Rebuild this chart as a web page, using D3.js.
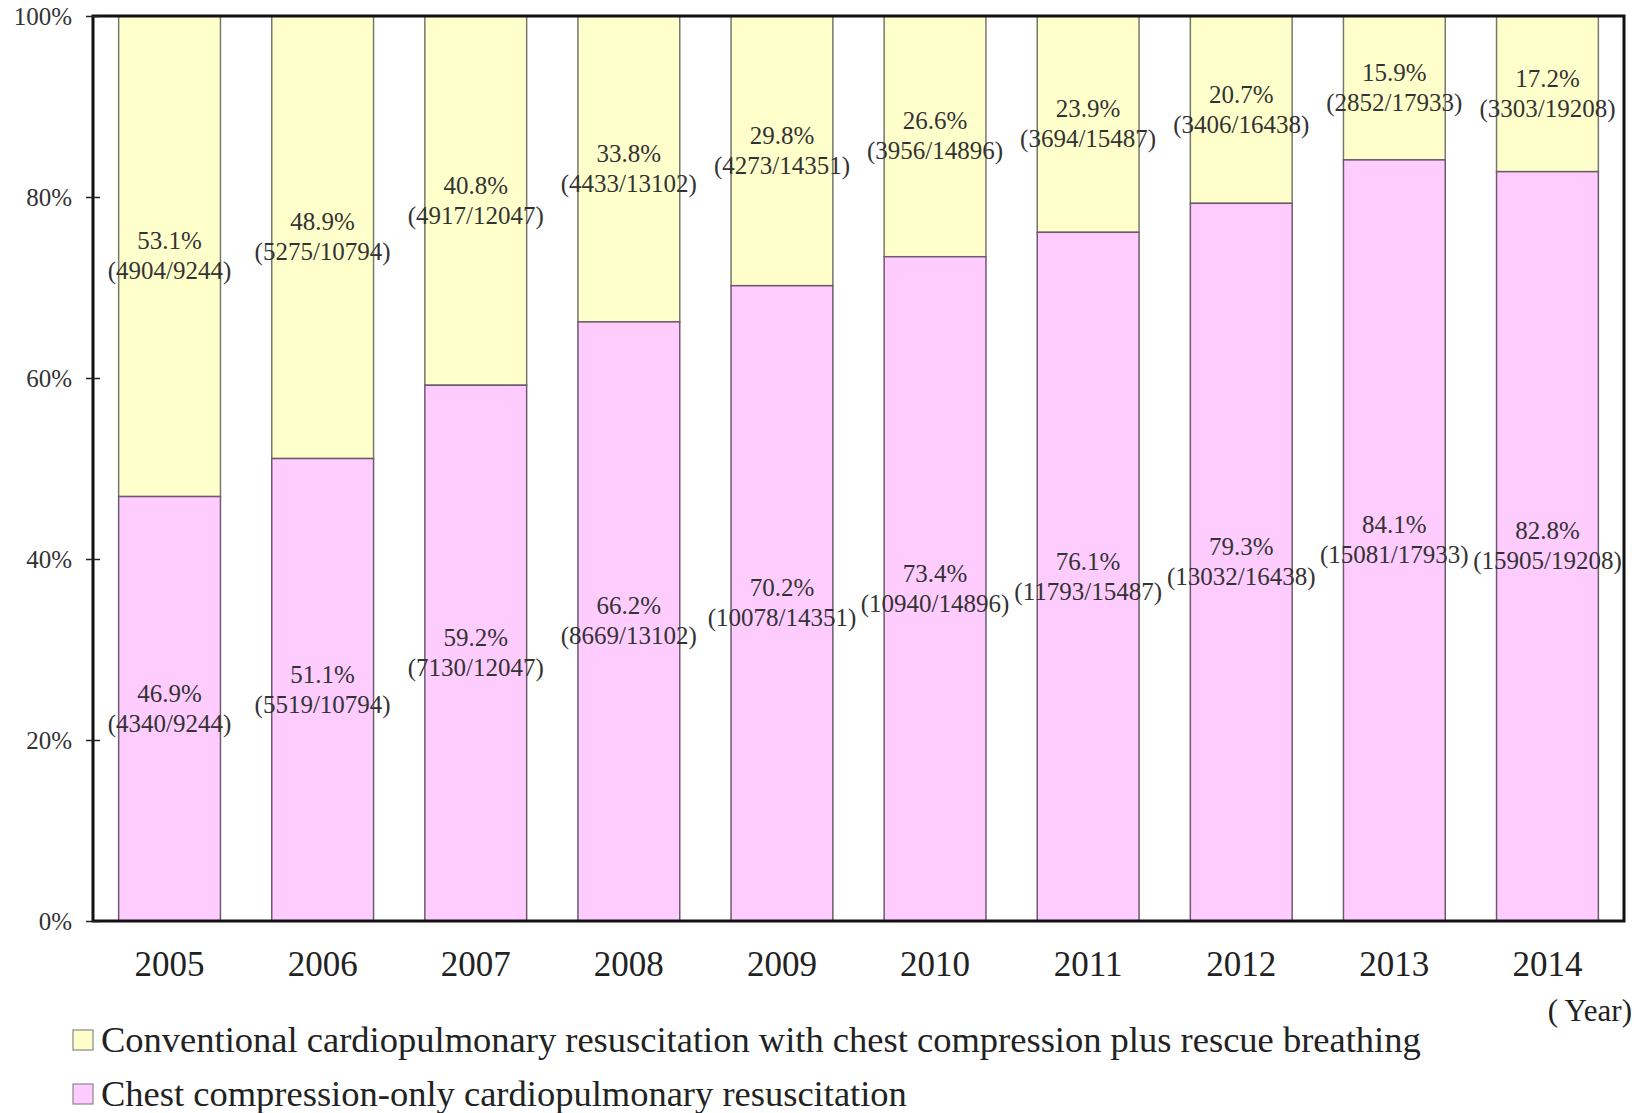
<!DOCTYPE html>
<html>
<head>
<meta charset="utf-8">
<script src="https://cdn.jsdelivr.net/npm/d3@7/dist/d3.min.js"></script>
<style>
  body { margin: 0; background: #fff; }
  svg { display: block; font-family: "Liberation Serif", "Times New Roman", serif; }
</style>
</head>
<body>
<div id="content"></div>
<script>
const years = ['2005', '2006', '2007', '2008', '2009', '2010', '2011', '2012', '2013', '2014'];

// chest compression-only CPR (pink, bottom)
const ccPct = [46.9, 51.1, 59.2, 66.2, 70.2, 73.4, 76.1, 79.3, 84.1, 82.8];
const ccCount = ['4340/9244', '5519/10794', '7130/12047', '8669/13102', '10078/14351',
  '10940/14896', '11793/15487', '13032/16438', '15081/17933', '15905/19208'];

// conventional CPR (yellow, top)
const convPct = [53.1, 48.9, 40.8, 33.8, 29.8, 26.6, 23.9, 20.7, 15.9, 17.2];
const convCount = ['4904/9244', '5275/10794', '4917/12047', '4433/13102', '4273/14351',
  '3956/14896', '3694/15487', '3406/16438', '2852/17933', '3303/19208'];

const yTicks = [0, 20, 40, 60, 80, 100];

const legendItems = [
  'Conventional cardiopulmonary resuscitation with chest compression plus rescue breathing',
  'Chest compression-only cardiopulmonary resuscitation'
];

const width = 1634,
  height = 1113;

const plot = { left: 93, right: 1624, top: 16, bottom: 921 };

const colors = { conv: '#ffffcc', cc: '#ffccff' };

const x = d3.scaleBand()
  .domain(years)
  .range([plot.left, plot.right])
  .paddingInner(0.335)
  .paddingOuter(0.1675);

const y = d3.scaleLinear()
  .domain([0, 100])
  .range([plot.bottom, plot.top]);

const svg = d3.select('#content').append('svg')
  .attr('width', width)
  .attr('height', height);

const rows = years.map((yr, i) => ({
  year: yr,
  cc: ccPct[i], ccN: ccCount[i],
  conv: convPct[i], convN: convCount[i]
}));

const bar = svg.selectAll('g.bar')
  .data(rows)
  .enter().append('g').attr('class', 'bar');

// conventional on top: from cc% up to 100%
bar.append('rect')
  .attr('x', d => x(d.year))
  .attr('width', x.bandwidth())
  .attr('y', y(100))
  .attr('height', d => y(d.cc) - y(100))
  .style('fill', colors.conv)
  .style('stroke', '#77776a')
  .style('stroke-width', 1.5);

bar.append('rect')
  .attr('x', d => x(d.year))
  .attr('width', x.bandwidth())
  .attr('y', d => y(d.cc))
  .attr('height', d => y(0) - y(d.cc))
  .style('fill', colors.cc)
  .style('stroke', '#6e5a6e')
  .style('stroke-width', 1.5);

const addLabel = (sel, pctKey, nKey, lo, hi) => {
  const t = sel.append('text')
    .attr('text-anchor', 'middle')
    .attr('font-size', 25)
    .style('fill', '#333');
  const cy = d => (y(lo(d)) + y(hi(d))) / 2;
  t.append('tspan')
    .attr('x', d => x(d.year) + x.bandwidth() / 2)
    .attr('y', d => cy(d) - 7)
    .text(d => d[pctKey].toFixed(1) + '%');
  t.append('tspan')
    .attr('x', d => x(d.year) + x.bandwidth() / 2)
    .attr('y', d => cy(d) + 23)
    .text(d => '(' + d[nKey] + ')');
};

addLabel(bar, 'conv', 'convN', d => d.cc, d => 100);
addLabel(bar, 'cc', 'ccN', d => 0, d => d.cc);

// frame
svg.append('rect')
  .attr('x', plot.left)
  .attr('y', plot.top)
  .attr('width', plot.right - plot.left)
  .attr('height', plot.bottom - plot.top)
  .style('fill', 'none')
  .style('stroke', '#111')
  .style('stroke-width', 3);

// y axis: ticks cross the axis line
const yAxis = svg.append('g')
  .attr('transform', `translate(${plot.left},0)`)
  .call(d3.axisLeft(y).tickValues(yTicks).tickSize(7).tickFormat(d => d + '%'));
yAxis.select('.domain').remove();
yAxis.selectAll('.tick line')
  .attr('x1', -7).attr('x2', 7)
  .attr('stroke', '#222').attr('stroke-width', 1.5);
yAxis.selectAll('.tick text')
  .attr('x', -21)
  .attr('dy', '0.35em')
  .attr('font-family', '"Liberation Serif", serif')
  .attr('font-size', 25)
  .attr('fill', '#333');

// x axis labels
const xAxis = svg.append('g')
  .attr('transform', `translate(0,${plot.bottom})`)
  .call(d3.axisBottom(x).tickSize(0));
xAxis.select('.domain').remove();
xAxis.selectAll('.tick text')
  .attr('y', 0)
  .attr('dy', 55)
  .attr('font-family', '"Liberation Serif", serif')
  .attr('font-size', 35)
  .attr('fill', '#222');

svg.append('text')
  .attr('x', 1632)
  .attr('y', 1021)
  .attr('text-anchor', 'end')
  .attr('font-size', 31)
  .style('fill', '#222')
  .text('( Year)');

// legend
const legend = svg.selectAll('g.legend')
  .data(legendItems)
  .enter().append('g').attr('class', 'legend')
  .attr('transform', (d, i) => `translate(73,${1030 + i * 54})`);

legend.append('rect')
  .attr('width', 20).attr('height', 20)
  .style('fill', (d, i) => i === 0 ? colors.conv : colors.cc)
  .style('stroke', '#888')
  .style('stroke-width', 1.2);

legend.append('text')
  .attr('x', 28)
  .attr('y', 22)
  .attr('font-size', 36.5)
  .style('fill', '#222')
  .text(d => d);
</script>
</body>
</html>
